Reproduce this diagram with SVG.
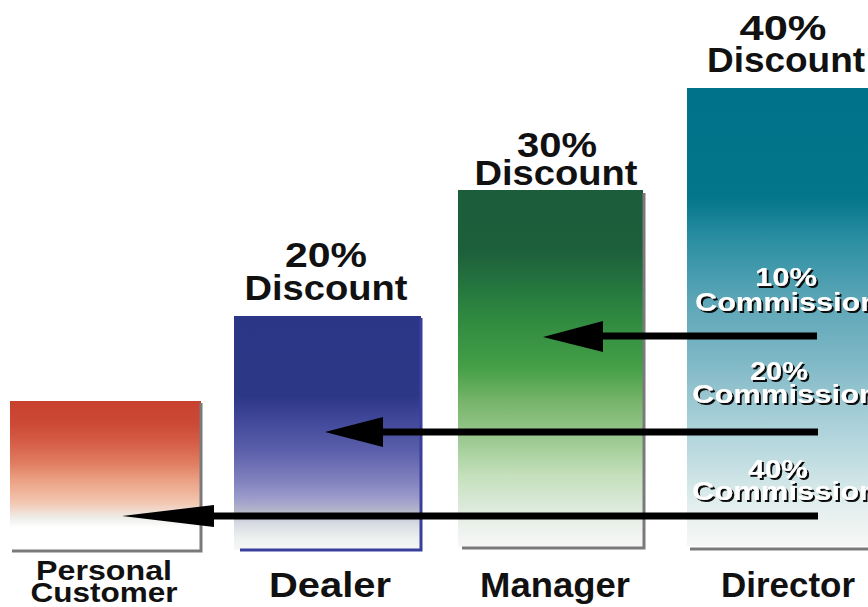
<svg xmlns="http://www.w3.org/2000/svg" width="868" height="607" viewBox="0 0 868 607">
<style>
.h{font-family:"Liberation Sans",Arial,Helvetica,sans-serif;font-weight:bold;fill:#111;text-anchor:middle;font-size:35px}
.p{font-family:"Liberation Sans",Arial,Helvetica,sans-serif;font-weight:bold;fill:#111;text-anchor:middle;font-size:28px}
.c{font-family:"Liberation Sans",Arial,Helvetica,sans-serif;font-weight:bold;font-size:25px;fill:#fff;filter:url(#ds)}
.sh{stroke:#7a7a7a;stroke-width:3;fill:none}
.ln{stroke:#000;stroke-width:7;fill:none}
.hd{fill:#000}
</style>
<defs>
<filter id="ds" x="-10%" y="-30%" width="130%" height="160%">
<feOffset in="SourceAlpha" dx="2" dy="2" result="o"/>
<feFlood flood-color="#111"/>
<feComposite in2="o" operator="in" result="s"/>
<feMerge><feMergeNode in="s"/><feMergeNode in="SourceGraphic"/></feMerge>
</filter>
<linearGradient id="gRed" x1="0" y1="0" x2="0" y2="1">
<stop offset="0" stop-color="#c8412e"/>
<stop offset="0.16" stop-color="#cc4a36"/>
<stop offset="0.28" stop-color="#d65e47"/>
<stop offset="0.42" stop-color="#e07e62"/>
<stop offset="0.53" stop-color="#eba084"/>
<stop offset="0.68" stop-color="#f3c6b0"/>
<stop offset="0.79" stop-color="#eef0ec"/>
<stop offset="0.85" stop-color="#ffffff"/>
<stop offset="1" stop-color="#ffffff"/>
</linearGradient>
<linearGradient id="gBlue" x1="0" y1="0" x2="0" y2="1">
<stop offset="0" stop-color="#2b3686"/>
<stop offset="0.34" stop-color="#2c3786"/>
<stop offset="0.44" stop-color="#404799"/>
<stop offset="0.57" stop-color="#5a5eaa"/>
<stop offset="0.70" stop-color="#7f80bd"/>
<stop offset="0.78" stop-color="#9c9ccc"/>
<stop offset="0.83" stop-color="#b4b5c9"/>
<stop offset="0.89" stop-color="#d8dce2"/>
<stop offset="0.95" stop-color="#edf1ef"/>
<stop offset="1" stop-color="#f6f8f6"/>
</linearGradient>
<linearGradient id="gGreen" x1="0" y1="0" x2="0" y2="1">
<stop offset="0" stop-color="#1c5d3b"/>
<stop offset="0.17" stop-color="#1d5f3b"/>
<stop offset="0.25" stop-color="#23713e"/>
<stop offset="0.36" stop-color="#2f8a40"/>
<stop offset="0.50" stop-color="#45a047"/>
<stop offset="0.595" stop-color="#78b56b"/>
<stop offset="0.71" stop-color="#a0cc95"/>
<stop offset="0.80" stop-color="#c4e0bc"/>
<stop offset="0.89" stop-color="#dceadb"/>
<stop offset="0.95" stop-color="#eef2ee"/>
<stop offset="1" stop-color="#f6f8f6"/>
</linearGradient>
<linearGradient id="gTeal" x1="0" y1="0" x2="0" y2="1">
<stop offset="0" stop-color="#00738a"/>
<stop offset="0.24" stop-color="#04768b"/>
<stop offset="0.33" stop-color="#2b8ea2"/>
<stop offset="0.46" stop-color="#5aa5b6"/>
<stop offset="0.59" stop-color="#7db7c5"/>
<stop offset="0.72" stop-color="#a6ced7"/>
<stop offset="0.83" stop-color="#c6e0e4"/>
<stop offset="0.91" stop-color="#e2eeee"/>
<stop offset="0.96" stop-color="#eef3f1"/>
<stop offset="1" stop-color="#f6f8f6"/>
</linearGradient>
</defs>
<rect width="868" height="607" fill="#fff"/>

<g id="personal-customer">
<rect x="10" y="401" width="191" height="149" fill="url(#gRed)"/>
<polyline class="sh" points="201,403 201,551 12,551"/>
<text class="p" x="104" y="580" textLength="136" lengthAdjust="spacingAndGlyphs">Personal</text>
<text class="p" x="104" y="602" textLength="147" lengthAdjust="spacingAndGlyphs">Customer</text>
</g>

<g id="dealer">
<rect x="234" y="316" width="187" height="234" fill="url(#gBlue)"/>
<polyline points="421,318 421,550 240,550" fill="none" stroke="#3b3f9c" stroke-width="3"/>
<text class="h" x="326" y="267" textLength="82" lengthAdjust="spacingAndGlyphs">20%</text>
<text class="h" x="326" y="300" textLength="163" lengthAdjust="spacingAndGlyphs">Discount</text>
<text class="h" x="330" y="597" textLength="122" lengthAdjust="spacingAndGlyphs">Dealer</text>
</g>

<g id="manager">
<rect x="458" y="190" width="185" height="357" fill="url(#gGreen)"/>
<polyline class="sh" points="644,193 644,548 462,548"/>
<text class="h" x="557" y="157" textLength="80" lengthAdjust="spacingAndGlyphs">30%</text>
<text class="h" x="556" y="185" textLength="163" lengthAdjust="spacingAndGlyphs">Discount</text>
<text class="h" x="555" y="597" textLength="150" lengthAdjust="spacingAndGlyphs">Manager</text>
</g>

<g id="director">
<rect x="687" y="88" width="181" height="458" fill="url(#gTeal)"/>
<line class="sh" x1="690" y1="549" x2="868" y2="549"/>
<text class="h" x="783" y="40" textLength="87" lengthAdjust="spacingAndGlyphs">40%</text>
<text class="h" x="786" y="72" textLength="158" lengthAdjust="spacingAndGlyphs">Discount</text>
<text class="h" x="788" y="597" textLength="134" lengthAdjust="spacingAndGlyphs">Director</text>
<text class="c" x="786" y="286" text-anchor="middle" textLength="62" lengthAdjust="spacingAndGlyphs">10%</text>
<text class="c" x="695" y="311" textLength="184" lengthAdjust="spacingAndGlyphs">Commission</text>
<text class="c" x="779" y="380" text-anchor="middle" textLength="58" lengthAdjust="spacingAndGlyphs">20%</text>
<text class="c" x="692" y="403" textLength="186" lengthAdjust="spacingAndGlyphs">Commission</text>
<text class="c" x="778" y="478" text-anchor="middle" textLength="60" lengthAdjust="spacingAndGlyphs">40%</text>
<text class="c" x="692" y="500" textLength="186" lengthAdjust="spacingAndGlyphs">Commission</text>
</g>

<g id="connectors">
<line class="ln" x1="598" y1="336" x2="817" y2="336"/>
<polygon class="hd" points="543,337 603,321 603,352"/>
<line class="ln" x1="380" y1="432" x2="818" y2="432"/>
<polygon class="hd" points="325,432 383,417 383,447"/>
<line class="ln" x1="208" y1="516" x2="818" y2="516"/>
<polygon class="hd" points="122,516 214,505 214,527"/>
</g>
</svg>
